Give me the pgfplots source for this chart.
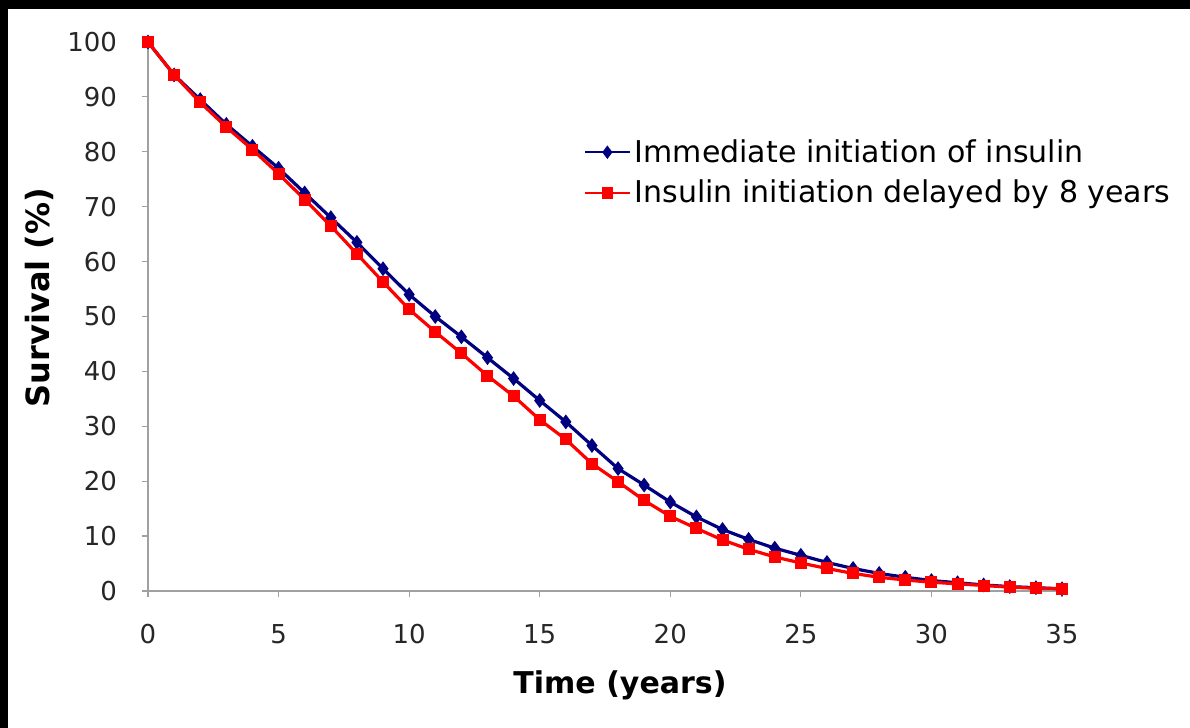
\documentclass[border=0pt]{standalone}
\usepackage{pgfplots}
\pgfplotsset{compat=1.18}
\usepackage{fontspec}
\setmainfont{DejaVu Sans}

\definecolor{navyline}{RGB}{0,0,128}
\definecolor{redline}{RGB}{255,0,0}
\definecolor{axisgray}{RGB}{160,160,160}

\begin{document}
\begin{tikzpicture}
  % canvas: 1px = 0.5pt, 1190x728 px
  \fill[white] (0pt,-20pt) rectangle (620pt,364pt);
  \fill[black] (0pt,359.5pt) rectangle (620pt,364pt);
  \fill[black] (0pt,-20pt) rectangle (4pt,364pt);
  \begin{axis}[
    at={(74pt,68.5pt)}, anchor=south west,
    scale only axis,
    width=457pt, height=274.5pt,
    xmin=0, xmax=35, ymin=0, ymax=100,
    xtick={0,5,...,35}, ytick={0,10,...,100},
    axis x line*=bottom, axis y line*=left,
    axis line style={axisgray, line width=0.8pt, -},
    tick style={axisgray, line width=0.6pt},
    tick align=outside, major tick length=3pt,
    minor tick num=0,
    tick label style={font=\fontsize{13}{15}\selectfont, text=black!85},
    /pgf/number format/assume math mode=true,
    yticklabel style={xshift=-9pt},
    xticklabel style={yshift=-10pt},
    xlabel={\textbf{Time (years)}},
    ylabel={\textbf{Survival (\%)}},
    xlabel style={font=\fontsize{15}{17}\selectfont, yshift=-6.5pt, xshift=7.5pt},
    ylabel style={font=\fontsize{16}{18}\selectfont, yshift=0pt, xshift=9.5pt},
    clip=false,
    legend cell align=left,
    legend style={draw=none, fill=none, at={(0.47,0.838)}, anchor=north west,
      font=\fontsize{15}{17}\selectfont, row sep=3.5pt},
    legend image code/.code={
      \draw[mark repeat=2, mark phase=2, line width=1.2pt]
        plot coordinates {(0cm,0cm) (0.39cm,0cm) (0.78cm,0cm)};},
  ]
    \addplot[navyline, line width=1.6pt, mark=diamond*, mark size=2.4pt,
      mark options={fill=navyline, draw=navyline}] coordinates {
      (0,100) (1,94) (2,89.5) (3,85) (4,81) (5,77) (6,72.5) (7,68)
      (8,63.5) (9,58.7) (10,54) (11,50) (12,46.3) (13,42.5) (14,38.7)
      (15,34.7) (16,30.8) (17,26.5) (18,22.3) (19,19.3) (20,16.2)
      (21,13.5) (22,11.2) (23,9.4) (24,7.8) (25,6.5) (26,5.2) (27,4.1)
      (28,3.2) (29,2.5) (30,1.9) (31,1.5) (32,1.1) (33,0.8) (34,0.6) (35,0.4)};
    \addlegendentry{Immediate initiation of insulin}
    \addplot[redline, line width=1.6pt, mark=square*, mark size=2.2pt,
      mark options={fill=redline, draw=redline}] coordinates {
      (0,100) (1,94) (2,89) (3,84.5) (4,80.4) (5,76) (6,71.3) (7,66.5)
      (8,61.4) (9,56.3) (10,51.3) (11,47.2) (12,43.3) (13,39.2) (14,35.5)
      (15,31.2) (16,27.6) (17,23.2) (18,19.9) (19,16.5) (20,13.6)
      (21,11.4) (22,9.3) (23,7.6) (24,6.2) (25,5.1) (26,4.1) (27,3.2)
      (28,2.5) (29,2.0) (30,1.6) (31,1.3) (32,1.0) (33,0.7) (34,0.5) (35,0.4)};
    \addlegendentry{Insulin initiation delayed by 8 years}
  \end{axis}
  \pgfresetboundingbox
  \path[use as bounding box] (0pt,0pt) rectangle (595pt,364pt);
\end{tikzpicture}
\end{document}
